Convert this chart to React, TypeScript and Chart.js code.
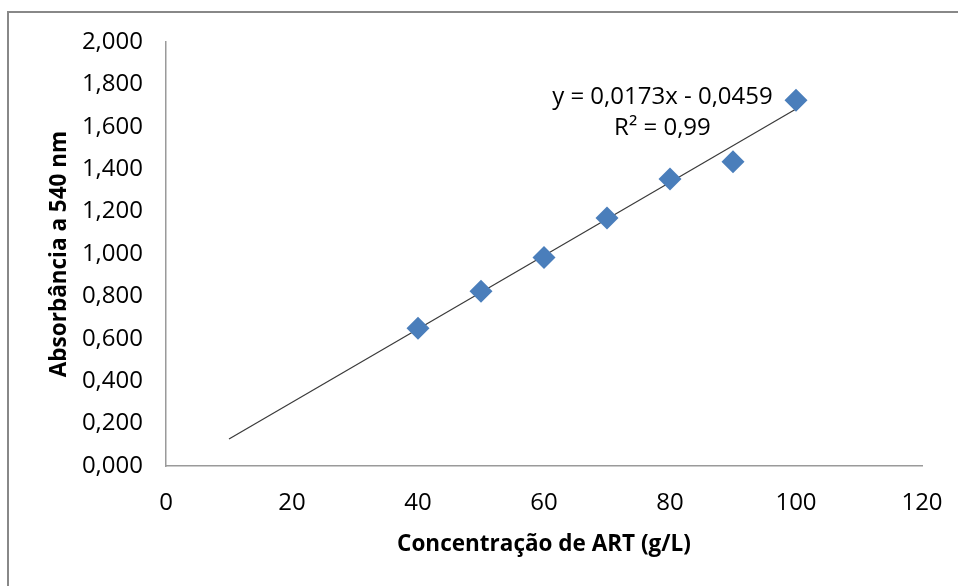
import React, { useEffect, useRef } from "react";
import { Chart, registerables } from "chart.js";

Chart.register(...registerables);

const concentrations = [40, 50, 60, 70, 80, 90, 100];
const absorbances = [0.65, 0.824, 0.983, 1.17, 1.354, 1.435, 1.725];
const trendX = [10, 100];
const trendY = [0.1271, 1.6841];
const equationLines = ["y = 0,0173x - 0,0459", "R² = 0,99"];
const xTitle = "Concentração de ART (g/L)";
const yTitle = "Absorbância a 540 nm";

const FONT = "'Open Sans', 'Noto Sans', sans-serif";

export default function App() {
  const canvasRef = useRef<HTMLCanvasElement | null>(null);

  useEffect(() => {
    document.body.style.margin = "0";
    document.body.style.overflow = "hidden";
    const canvas = canvasRef.current;
    if (!canvas) return;

    const equationPlugin = {
      id: "equation",
      afterDatasetsDraw(chart: any) {
        const { ctx, scales } = chart;
        const cx = scales.x.getPixelForValue(78.8);
        const cy = scales.y.getPixelForValue(1.74);
        ctx.save();
        ctx.font = `24px ${FONT}`;
        ctx.fillStyle = "#000";
        ctx.textAlign = "center";
        ctx.textBaseline = "middle";
        equationLines.forEach((t, i) => ctx.fillText(t, cx, cy + i * 31));
        ctx.restore();
      },
    };

    const chart = new Chart(canvas, {
      type: "scatter",
      data: {
        datasets: [
          {
            label: "trend",
            data: trendX.map((x, i) => ({ x, y: trendY[i] })),
            showLine: true,
            borderColor: "#3a3a3a",
            borderWidth: 1.2,
            pointRadius: 0,
            order: 2,
          },
          {
            label: "data",
            data: concentrations.map((x, i) => ({ x, y: absorbances[i] })),
            pointStyle: "rectRot",
            pointRadius: 11.5,
            pointBackgroundColor: "#4a7ebb",
            pointBorderWidth: 0,
            borderWidth: 0,
            order: 1,
          },
        ],
      },
      options: {
        animation: false,
        responsive: false,
        layout: { padding: { top: 42, right: 36, left: 0, bottom: 0 } },
        plugins: {
          legend: { display: false },
          tooltip: { enabled: false },
        },
        scales: {
          x: {
            type: "linear",
            min: 0,
            max: 120,
            ticks: {
              stepSize: 20,
              padding: 23,
              color: "#000",
              font: { family: FONT, size: 24 },
            },
            grid: { display: false, drawTicks: false },
            border: { display: true, color: "#9a9a9a", width: 1.5 },
            title: {
              display: true,
              text: xTitle,
              color: "#000",
              font: { family: FONT, size: 22.5, weight: "bold" },
              padding: { top: 0, bottom: 27.5 },
            },
            afterFit(scale: any) {
              scale.height = 120;
              scale.paddingRight = 0;
              scale.paddingLeft = 0;
            },
          },
          y: {
            type: "linear",
            min: 0,
            max: 2,
            ticks: {
              stepSize: 0.2,
              padding: 23,
              color: "#000",
              font: { family: FONT, size: 24 },
              callback: (v: any) => Number(v).toFixed(3).replace(".", ","),
            },
            grid: { display: false, drawTicks: false },
            border: { display: true, color: "#9a9a9a", width: 1.5 },
            title: {
              display: true,
              text: yTitle,
              color: "#000",
              font: { family: FONT, size: 22.5, weight: "bold" },
              padding: { top: 46.5, bottom: 0 },
            },
            afterFit(scale: any) {
              scale.width = 166;
            },
          },
        },
      },
      plugins: [equationPlugin],
    });

    return () => chart.destroy();
  }, []);

  return (
    <div style={{ position: "fixed", left: 0, top: 0, width: 958, height: 586, overflow: "hidden", background: "#fff" }}>
      <div
        style={{
          position: "absolute",
          left: 7,
          top: 11,
          width: 1000,
          height: 700,
          border: "2px solid #888",
          boxSizing: "border-box",
        }}
      />
      <canvas ref={canvasRef} width={958} height={586} style={{ position: "absolute", left: 0, top: 0 }} />
    </div>
  );
}
